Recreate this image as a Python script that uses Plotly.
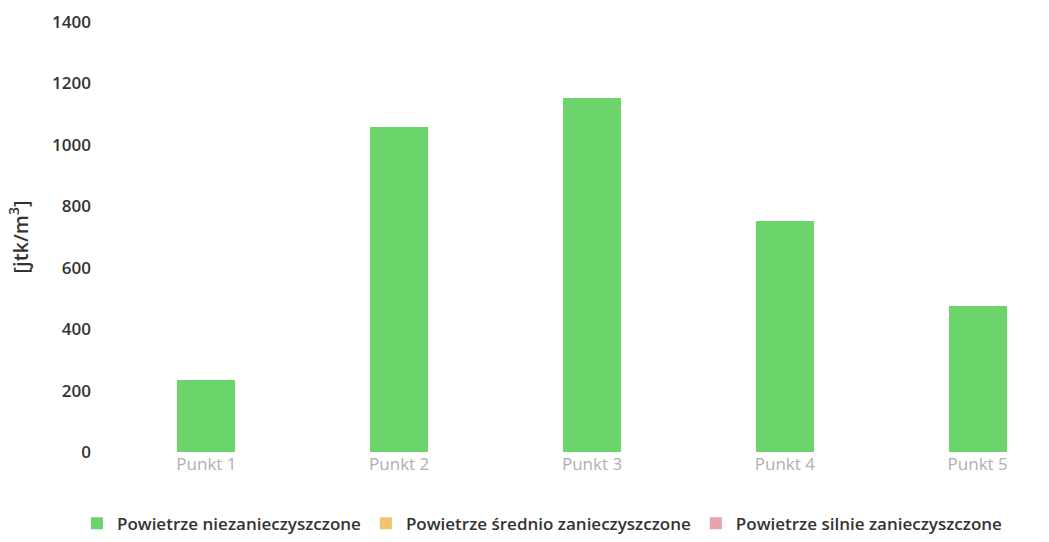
import plotly.graph_objects as go

categories = ["Punkt 1", "Punkt 2", "Punkt 3", "Punkt 4", "Punkt 5"]
clean_air = [235, 1058, 1152, 752, 475]
medium_air = [0, 0, 0, 0, 0]
heavy_air = [0, 0, 0, 0, 0]
series_names = ["Powietrze niezanieczyszczone", "Powietrze średnio zanieczyszczone", "Powietrze silnie zanieczyszczone"]
y_ticks = [0, 200, 400, 600, 800, 1000, 1200, 1400]

colors = ["#6bd46b", "#f3c46e", "#e4a3ad"]

fig = go.Figure()
for name, vals, col in zip(series_names, [clean_air, medium_air, heavy_air], colors):
    fig.add_trace(go.Bar(x=categories, y=vals, name=name, marker_color=col,
                         marker_line_width=0, width=0.3))

fig.update_layout(
    width=1049, height=542,
    margin=dict(l=110, r=0, t=22, b=90),
    barmode="stack",
    plot_bgcolor="white", paper_bgcolor="white",
    font=dict(family="Open Sans", color="#333333"),
    xaxis=dict(range=[-0.5, 4.37], showgrid=False, showline=False, zeroline=False,
               tickfont=dict(size=17, color="#b0b0b0"), ticks=""),
    yaxis=dict(range=[0, 1400], tickvals=y_ticks, showgrid=False, zeroline=False,
               showline=False, tickfont=dict(size=17, color="#333333", weight=600),
               ticklabelstandoff=18,
               title=dict(text="[jtk/m<sup>3</sup>]", font=dict(size=20, color="#333333", weight=600), standoff=18)),
    legend=dict(orientation="h", x=0.46, xanchor="center", y=-0.125, yanchor="top",
                font=dict(size=17, color="#333333", weight=600), itemwidth=30, tracegroupgap=0,
                traceorder="normal"),
    bargap=0.7,
)

fig.write_html("out.html")
